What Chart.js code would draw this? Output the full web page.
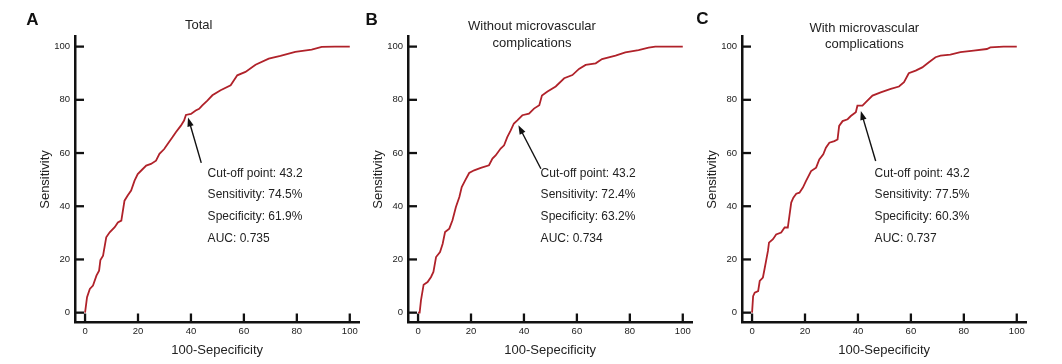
<!DOCTYPE html>
<html>
<head>
<meta charset="utf-8">
<script src="https://cdn.jsdelivr.net/npm/chart.js@4.4.1/dist/chart.umd.min.js"></script>
<style>
  html, body { margin: 0; padding: 0; background: #fff; }
  #wrap { position: relative; width: 1062px; height: 364px; overflow: hidden; }
  canvas { position: absolute; top: 0; }
</style>
</head>
<body>
<div id="wrap">
  <canvas id="cA" width="361" height="364" style="left:0px"></canvas>
  <canvas id="cB" width="361" height="364" style="left:333px"></canvas>
  <canvas id="cC" width="361" height="364" style="left:667px"></canvas>
</div>
<script>
// ---- data ----
const tickValues = [0, 20, 40, 60, 80, 100];

const fprA = [0,0.75,1.8,3.0,4.3,5.3,5.8,6.8,8.0,9.3,11.2,12.4,13.7,14.9,16.1,17.4,18.7,19.9,21.8,23.1,24.9,26.8,28.1,29.9,31.2,33.0,34.3,36.2,37.4,38.1,40.0,41.8,43.1,44.3,46.2,48.1,51.2,55.0,57.5,60.6,64.4,69.4,73.8,79.4,85.6,89.4,94.4,100];
const tprA = [0,5.8,8.9,10.2,13.9,15.8,19.8,21.4,28.3,30.2,32.1,33.9,34.6,42.1,44.0,45.9,49.6,52.1,54.0,55.3,55.9,57.1,59.7,61.5,63.4,65.9,67.8,70.3,72.2,74.3,74.7,76.0,76.6,77.9,79.7,81.7,83.6,85.5,89.2,90.5,93.2,95.5,96.5,98.0,98.9,99.9,100,100];

const fprB = [0,0.6,1.1,2.1,3.6,4.9,5.8,6.8,8.3,9.3,10.2,11.8,13.0,14.3,15.6,16.5,17.8,19.3,21.2,23.7,26.8,28.1,29.3,31.2,32.5,33.7,35.0,36.2,37.5,39.4,41.9,43.8,45.8,46.8,48.9,52.0,55.2,58.3,60.8,63.3,67.1,69.5,74.6,78.3,83.3,87.1,89.6,100];
const tprB = [0,0,4.6,10.5,11.5,13.4,15.3,20.9,22.8,25.9,30.3,31.6,34.7,39.7,43.5,47.2,49.7,52.5,53.5,54.4,55.4,57.9,59.1,61.7,62.9,66.0,68.5,71.1,72.3,74.2,74.8,76.7,78.0,81.6,83.1,85.0,88.1,89.3,91.6,93.1,93.7,95.3,96.6,97.8,98.7,99.6,100,100];

const fprC = [0,0.4,1.0,2.3,2.9,4.1,4.7,5.4,6.0,6.4,7.9,9.1,11.0,12.3,13.5,14.1,14.8,15.6,16.7,17.9,19.2,20.4,22.3,24.2,25.4,26.9,27.9,29.2,31.1,32.3,32.9,34.2,36.1,37.3,39.2,39.8,41.7,43.0,45.5,48.6,52.4,55.5,57.4,59.2,61.8,64.3,66.8,69.3,71.2,74.9,78.7,83.7,88.7,90.0,95.0,100];
const tprC = [0,6.2,7.5,8.1,11.9,13.2,16.3,20.0,23.2,26.3,27.6,29.4,30.1,32.0,32.0,36.3,41.4,43.2,44.7,45.1,47.0,49.5,53.2,54.5,57.6,59.5,62.0,63.9,64.5,65.1,70.2,72.0,72.7,73.9,75.3,77.8,77.8,79.1,81.6,82.8,84.1,85.0,86.6,90.0,91.0,92.2,94.1,96.0,96.6,97.0,97.9,98.5,99.1,99.7,100,100];

const panelLetters = ['A', 'B', 'C'];
const titlesA = ['Total'];
const titlesB = ['Without microvascular', 'complications'];
const titlesC = ['With microvascular', 'complications'];
const notesA = ['Cut-off point: 43.2', 'Sensitivity: 74.5%', 'Specificity: 61.9%', 'AUC: 0.735'];
const notesB = ['Cut-off point: 43.2', 'Sensitivity: 72.4%', 'Specificity: 63.2%', 'AUC: 0.734'];
const notesC = ['Cut-off point: 43.2', 'Sensitivity: 77.5%', 'Specificity: 60.3%', 'AUC: 0.737'];
// arrow [tipX, tipY, tailX, tailY] in data units
const arrowA = [38.9, 73.4, 43.9, 56.3];
const arrowB = [37.9, 70.4, 46.4, 54.1];
const arrowC = [41.1, 75.8, 46.7, 57.0];
const xTitle = '100-Sepecificity';
const yTitle = 'Sensitivity';

// ---- drawing ----
const FONT = "'Liberation Sans', Arial, Helvetica, sans-serif";
const LINE_COLOR = '#b0222a';

function makeChart(id, fpr, tpr, letter, letterPos, titles, titleX, titleY, notes, arrow) {
  const decor = {
    id: 'decor' + id,
    beforeDatasetsDraw(chart) {
      const {ctx, chartArea, scales: {x, y}} = chart;
      ctx.save();
      ctx.strokeStyle = '#111';
      ctx.lineWidth = 2.3;
      tickValues.forEach(v => {
        const px = x.getPixelForValue(v);
        ctx.beginPath(); ctx.moveTo(px, chartArea.bottom); ctx.lineTo(px, chartArea.bottom - 9); ctx.stroke();
        const py = y.getPixelForValue(v);
        ctx.beginPath(); ctx.moveTo(chartArea.left, py); ctx.lineTo(chartArea.left + 9, py); ctx.stroke();
      });
      ctx.restore();
    },
    afterDraw(chart) {
      const {ctx, scales: {x, y}} = chart;
      ctx.save();
      // panel letter
      ctx.fillStyle = '#111';
      ctx.font = 'bold 17px ' + FONT;
      ctx.textAlign = 'center';
      ctx.textBaseline = 'middle';
      ctx.fillText(letter, letterPos[0], letterPos[1]);
      // title
      ctx.fillStyle = '#222';
      ctx.font = '13px ' + FONT;
      titles.forEach((t, i) => ctx.fillText(t, titleX, titleY + i * 16.5));
      // annotation text
      ctx.font = '12px ' + FONT;
      ctx.textAlign = 'left';
      const tx = x.getPixelForValue(46.3);
      const ty = y.getPixelForValue(52.4);
      notes.forEach((t, i) => ctx.fillText(t, tx, ty + i * 21.7));
      // arrow
      const x1 = x.getPixelForValue(arrow[0]), y1 = y.getPixelForValue(arrow[1]);
      const x2 = x.getPixelForValue(arrow[2]), y2 = y.getPixelForValue(arrow[3]);
      const ang = Math.atan2(y1 - y2, x1 - x2);
      const hl = 9, hw = 3.2;
      ctx.strokeStyle = '#111';
      ctx.lineWidth = 1.4;
      ctx.beginPath();
      ctx.moveTo(x2, y2);
      ctx.lineTo(x1 - Math.cos(ang) * hl * 0.8, y1 - Math.sin(ang) * hl * 0.8);
      ctx.stroke();
      ctx.fillStyle = '#111';
      ctx.beginPath();
      ctx.moveTo(x1, y1);
      ctx.lineTo(x1 - Math.cos(ang) * hl - Math.sin(ang) * hw, y1 - Math.sin(ang) * hl + Math.cos(ang) * hw);
      ctx.lineTo(x1 - Math.cos(ang) * hl + Math.sin(ang) * hw, y1 - Math.sin(ang) * hl - Math.cos(ang) * hw);
      ctx.closePath();
      ctx.fill();
      ctx.restore();
    }
  };

  const tickFont = {family: FONT, size: 9.5};
  const titleFont = {family: FONT, size: 13};

  return new Chart(document.getElementById(id), {
    type: 'scatter',
    data: {
      datasets: [{
        data: fpr.map((v, i) => ({x: v, y: tpr[i]})),
        showLine: true,
        borderColor: LINE_COLOR,
        borderWidth: 1.8,
        pointRadius: 0,
        tension: 0,
        fill: false
      }]
    },
    options: {
      responsive: false,
      animation: false,
      devicePixelRatio: 1,
      layout: {padding: {top: 36.5, left: 0, right: 0, bottom: 0}},
      plugins: {legend: {display: false}, tooltip: {enabled: false}, title: {display: false}},
      scales: {
        x: {
          type: 'linear',
          min: -3.8, max: 103.6,
          afterBuildTicks: s => { s.ticks = tickValues.map(v => ({value: v})); },
          afterFit: s => { s.height = 41.5; },
          grid: {display: true, drawOnChartArea: false, drawTicks: false},
          border: {display: true, color: '#111', width: 2.5},
          ticks: {font: tickFont, color: '#222', padding: 3.3, maxRotation: 0, autoSkip: false},
          title: {display: true, text: xTitle, font: titleFont, color: '#222', padding: {top: 0, bottom: 6.2}}
        },
        y: {
          type: 'linear',
          min: -3.7, max: 103.8,
          afterBuildTicks: s => { s.ticks = tickValues.map(v => ({value: v})); },
          afterFit: s => { s.width = 75; },
          grid: {display: true, drawOnChartArea: false, drawTicks: false},
          border: {display: true, color: '#111', width: 2.5},
          ticks: {font: tickFont, color: '#222', padding: 5, autoSkip: false},
          title: {display: true, text: yTitle, font: titleFont, color: '#222', padding: {top: 37.2, bottom: 0}}
        }
      }
    },
    plugins: [decor]
  });
}

makeChart('cA', fprA, tprA, panelLetters[0], [32.3, 20], titlesA, 198.7, 25, notesA, arrowA);
makeChart('cB', fprB, tprB, panelLetters[1], [38.7, 20], titlesB, 199, 26.7, notesB, arrowB);
makeChart('cC', fprC, tprC, panelLetters[2], [35.3, 19], titlesC, 197.3, 28, notesC, arrowC);
</script>
</body>
</html>
